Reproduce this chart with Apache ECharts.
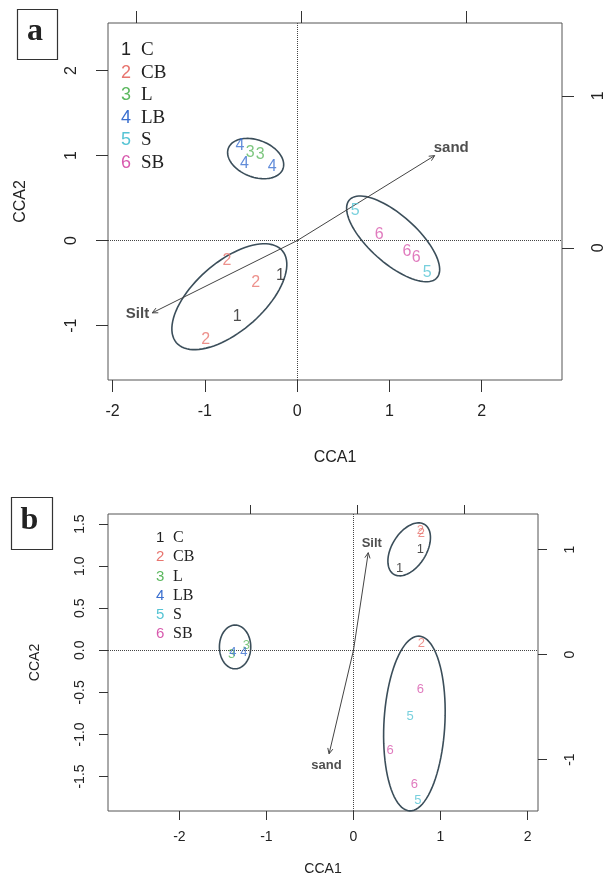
<!DOCTYPE html>
<html>
<head>
<meta charset="utf-8">
<script src="https://cdn.jsdelivr.net/npm/echarts@6/dist/echarts.min.js"></script>
<style>
  html, body { margin: 0; padding: 0; background: #fff; }
  #chart { width: 606px; height: 882px; }
</style>
</head>
<body>
<div id="chart"></div>
<script>
// groups and the digit each one is plotted with
const groups = ['C', 'CB', 'L', 'LB', 'S', 'SB']
const digits = ['1', '2', '3', '4', '5', '6']
const groupColors = ['#222222', '#e8756f', '#5cb85f', '#3a6fcf', '#56c4d4', '#d85aae']

// panel a: site scores (CCA1, CCA2)
const aC = [[-0.18, -0.41], [-0.65, -0.89]]
const aCB = [[-0.76, -0.24], [-0.45, -0.49], [-0.99, -1.17]]
const aL = [[-0.51, 1.03], [-0.40, 1.01]]
const aLB = [[-0.62, 1.12], [-0.57, 0.91], [-0.27, 0.87]]
const aS = [[0.63, 0.35], [1.41, -0.38]]
const aSB = [[0.89, 0.065], [1.19, -0.125], [1.29, -0.205]]

// panel b: site scores (CCA1, CCA2)
const bC = [[0.77, 1.20], [0.53, 0.97]]
const bCB = [[0.77, 1.43], [0.78, 1.39], [0.78, 0.08]]
const bL = [[-1.23, 0.06], [-1.40, -0.05]]
const bLB = [[-1.385, -0.02], [-1.26, -0.03]]
const bS = [[0.65, -0.79], [0.74, -1.79]]
const bSB = [[0.77, -0.46], [0.42, -1.19], [0.70, -1.59]]

// ellipses: [centre x, centre y, semi-major, semi-minor, angle in degrees]
const ellipsesA = [[-0.45, 0.965, 0.32, 0.215, -25], [1.04, 0.02, 0.66, 0.27, -45], [-0.735, -0.66, 0.79, 0.39, 45]]
const ellipsesB = [[0.64, 1.20, 0.345, 0.20, 60], [-1.36, 0.04, 0.26, 0.18, 90], [0.70, -0.87, 1.04, 0.35, 87]]

// environmental arrows: [x0, y0, x1, y1] and their labels
const arrowsA = [[0, 0, 1.49, 1.0], [0, 0, -1.57, -0.85]]
const arrowNamesA = ['sand', 'Silt']
const arrowLabelPosA = [[1.67, 1.09], [-1.73, -0.86]]
const arrowsB = [[0, 0, 0.17, 1.16], [0, 0, -0.28, -1.23]]
const arrowNamesB = ['Silt', 'sand']
const arrowLabelPosB = [[0.21, 1.27], [-0.31, -1.37]]

// tick values
const ticksAx = [-2, -1, 0, 1, 2]
const ticksAy = [-1, 0, 1, 2]
const ticksAtop = [-1, 0, 1]
const ticksAright = [0, 1]
const ticksBx = [-2, -1, 0, 1, 2]
const ticksBy = [-1.5, -1, -0.5, 0, 0.5, 1, 1.5]
const ticksBtop = [-1, 0, 1]
const ticksBright = [-1, 0, 1]

const sans = 'Liberation Sans'
const serif = 'Liberation Serif'
const ink = '#333'

let myChart = echarts.init(document.getElementById('chart'), null, { renderer: 'canvas' })

function ellipseItem(params, api){
    let cx = api.value(0), cy = api.value(1)
    let a = api.value(2), b = api.value(3)
    let ang = api.value(4) * Math.PI / 180
    let pts = []
    for (let i = 0; i <= 90; i++){
        let t = i / 90 * 2 * Math.PI
        let dx = a * Math.cos(t), dy = b * Math.sin(t)
        pts.push(api.coord([cx + dx * Math.cos(ang) - dy * Math.sin(ang), cy + dx * Math.sin(ang) + dy * Math.cos(ang)]))
    }
    return {
        type: 'polyline',
        shape: { points: pts },
        style: { fill: 'none', stroke: '#3b4e5a', lineWidth: 1.6 },
        silent: true
    }
}

function arrowItem(params, api){
    let p0 = api.coord([api.value(0), api.value(1)])
    let p1 = api.coord([api.value(2), api.value(3)])
    let ang = Math.atan2(p1[1] - p0[1], p1[0] - p0[0])
    let len = 6, spread = 0.45
    let h1 = [p1[0] - len * Math.cos(ang - spread), p1[1] - len * Math.sin(ang - spread)]
    let h2 = [p1[0] - len * Math.cos(ang + spread), p1[1] - len * Math.sin(ang + spread)]
    return {
        type: 'group',
        silent: true,
        children: [
            { type: 'line', shape: { x1: p0[0], y1: p0[1], x2: p1[0], y2: p1[1] }, style: { stroke: '#444', lineWidth: 1 } },
            { type: 'polyline', shape: { points: [h1, p1, h2] }, style: { fill: 'none', stroke: '#444', lineWidth: 1 } }
        ]
    }
}

function groupSeries(panel, idx, data, fontSize){
    return {
        name: groups[idx],
        type: 'scatter',
        xAxisIndex: panel * 2,
        yAxisIndex: panel * 2,
        data: data,
        symbolSize: 1,
        itemStyle: { color: 'transparent' },
        emphasis: { disabled: true },
        label: {
            show: true,
            position: 'inside',
            formatter: digits[idx],
            color: groupColors[idx],
            fontFamily: sans,
            fontSize: fontSize
        },
        z: 5
    }
}

function legendFor(left, top, digitSize, textSize, lineHeight, gap, digitWidth){
    let rich = { t: { fontFamily: serif, fontSize: textSize, color: '#222', lineHeight: lineHeight } }
    groupColors.forEach((c, i) => {
        rich['d' + i] = { fontFamily: sans, fontSize: digitSize, color: c, width: digitWidth, lineHeight: lineHeight }
    })
    return {
        data: groups,
        orient: 'vertical',
        left: left,
        top: top,
        itemWidth: 0,
        itemHeight: 0,
        itemGap: gap,
        icon: 'rect',
        selectedMode: false,
        formatter: name => {
            let i = groups.indexOf(name)
            return '{d' + i + '|' + digits[i] + '}{t|' + name + '}'
        },
        textStyle: { rich: rich }
    }
}

function tickAxis(opt){
    return Object.assign({
        type: 'value',
        scale: true,
        splitLine: { show: false },
        axisLine: { show: false, onZero: false }
    }, opt)
}

let option = {
    animation: false,
    backgroundColor: '#fff',
    grid: [
        { left: 108, top: 23, width: 454, height: 357, show: true, borderColor: '#555', borderWidth: 1, backgroundColor: 'transparent', containLabel: false, outerBoundsMode: 'none' },
        { left: 108, top: 514, width: 430, height: 297, show: true, borderColor: '#555', borderWidth: 1, backgroundColor: 'transparent', containLabel: false, outerBoundsMode: 'none' }
    ],
    legend: [
        legendFor(111, 36, 18, 19, 20, 3.5, 20),
        legendFor(146, 525, 15, 16, 17, 3.2, 17)
    ],
    xAxis: [
        tickAxis({
            gridIndex: 0, position: 'bottom', min: -2.05, max: 2.87,
            axisTick: { show: true, length: 12, customValues: ticksAx, lineStyle: { color: ink } },
            axisLabel: { customValues: ticksAx, margin: 24, fontFamily: sans, fontSize: 16, color: '#222' },
            name: 'CCA1', nameLocation: 'middle', nameGap: 70,
            nameTextStyle: { fontFamily: sans, fontSize: 16, color: '#222' }
        }),
        tickAxis({
            gridIndex: 0, position: 'top', min: -1.17, max: 1.58,
            axisTick: { show: true, length: 12, customValues: ticksAtop, lineStyle: { color: ink } },
            axisLabel: { show: false }
        }),
        tickAxis({
            gridIndex: 1, position: 'bottom', min: -2.82, max: 2.12,
            axisTick: { show: true, length: 9, customValues: ticksBx, lineStyle: { color: ink } },
            axisLabel: { customValues: ticksBx, margin: 19, fontFamily: sans, fontSize: 14, color: '#222' },
            name: 'CCA1', nameLocation: 'middle', nameGap: 51,
            nameTextStyle: { fontFamily: sans, fontSize: 14, color: '#222' }
        }),
        tickAxis({
            gridIndex: 1, position: 'top', min: -2.33, max: 1.69,
            axisTick: { show: true, length: 9, customValues: ticksBtop, lineStyle: { color: ink } },
            axisLabel: { show: false }
        })
    ],
    yAxis: [
        tickAxis({
            gridIndex: 0, position: 'left', min: -1.64, max: 2.56,
            axisTick: { show: true, length: 12, customValues: ticksAy, lineStyle: { color: ink } },
            axisLabel: { customValues: ticksAy, rotate: 90, margin: 28, fontFamily: sans, fontSize: 16, color: '#222' },
            name: 'CCA2', nameLocation: 'middle', nameGap: 79,
            nameTextStyle: { fontFamily: sans, fontSize: 16, color: '#222' }
        }),
        tickAxis({
            gridIndex: 0, position: 'right', min: -0.87, max: 1.48,
            axisTick: { show: true, length: 12, customValues: ticksAright, lineStyle: { color: ink } },
            axisLabel: { customValues: ticksAright, rotate: 90, margin: 29, fontFamily: sans, fontSize: 16, color: '#222' }
        }),
        tickAxis({
            gridIndex: 1, position: 'left', min: -1.91, max: 1.62,
            axisTick: { show: true, length: 9, customValues: ticksBy, lineStyle: { color: ink } },
            axisLabel: { customValues: ticksBy, rotate: 90, margin: 21, fontFamily: sans, fontSize: 14, color: '#222',
                formatter: v => v.toFixed(1) },
            name: 'CCA2', nameLocation: 'middle', nameGap: 66,
            nameTextStyle: { fontFamily: sans, fontSize: 14, color: '#222' }
        }),
        tickAxis({
            gridIndex: 1, position: 'right', min: -1.49, max: 1.34,
            axisTick: { show: true, length: 9, customValues: ticksBright, lineStyle: { color: ink } },
            axisLabel: { customValues: ticksBright, rotate: 90, margin: 25, fontFamily: sans, fontSize: 14, color: '#222' }
        })
    ],
    graphic: [
        { type: 'rect', left: 15, top: 7, shape: { width: 40, height: 50 }, style: { fill: 'none', stroke: '#333', lineWidth: 1.2 } },
        { type: 'text', x: 35, y: 32, style: { text: 'a', fontFamily: serif, fontWeight: 'bold', fontSize: 32, fill: '#222', align: 'center', verticalAlign: 'middle' } },
        { type: 'rect', left: 9, top: 495, shape: { width: 41, height: 52 }, style: { fill: 'none', stroke: '#333', lineWidth: 1.2 } },
        { type: 'text', x: 29.5, y: 521, style: { text: 'b', fontFamily: serif, fontWeight: 'bold', fontSize: 32, fill: '#222', align: 'center', verticalAlign: 'middle' } }
    ],
    series: []
}

let panels = [
    { sets: [aC, aCB, aL, aLB, aS, aSB], ellipses: ellipsesA, arrows: arrowsA, names: arrowNamesA, labelPos: arrowLabelPosA, digitSize: 16, arrowFont: 15 },
    { sets: [bC, bCB, bL, bLB, bS, bSB], ellipses: ellipsesB, arrows: arrowsB, names: arrowNamesB, labelPos: arrowLabelPosB, digitSize: 13, arrowFont: 13 }
]

panels.forEach((p, k) => {
    p.sets.forEach((data, i) => option.series.push(groupSeries(k, i, data, p.digitSize)))
    option.series.push({
        type: 'custom', xAxisIndex: k * 2, yAxisIndex: k * 2,
        renderItem: ellipseItem, data: p.ellipses, z: 3
    })
    option.series.push({
        type: 'custom', xAxisIndex: k * 2, yAxisIndex: k * 2,
        renderItem: arrowItem, data: p.arrows, z: 4
    })
    option.series.push({
        type: 'scatter', xAxisIndex: k * 2, yAxisIndex: k * 2,
        data: p.names.map((n, i) => ({ name: n, value: p.labelPos[i] })),
        symbolSize: 1,
        itemStyle: { color: 'transparent' },
        emphasis: { disabled: true },
        label: { show: true, position: 'inside', formatter: '{b}', fontFamily: sans, fontWeight: 'bold', fontSize: p.arrowFont, color: '#222' },
        markLine: {
            silent: true,
            symbol: 'none',
            label: { show: false },
            lineStyle: { type: 'dotted', color: '#444', width: 1 },
            data: [{ xAxis: 0 }, { yAxis: 0 }]
        },
        z: 4
    })
})

myChart.setOption(option)
</script>
</body>
</html>
